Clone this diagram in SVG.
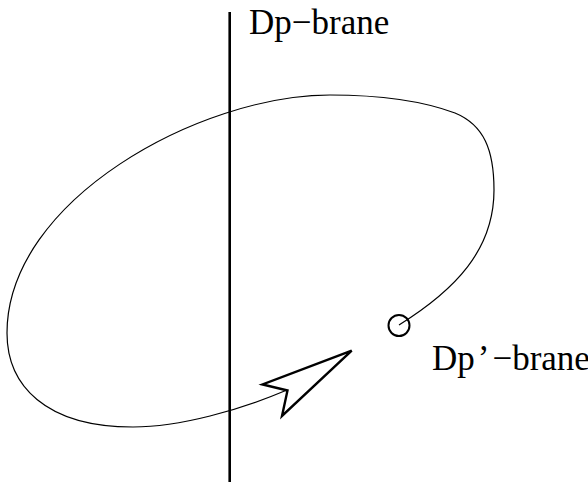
<svg xmlns="http://www.w3.org/2000/svg" width="588" height="483" viewBox="0 0 588 483">
<style>
.lbl{font-family:"Liberation Serif","Times New Roman",serif;font-size:35px;fill:#000}
.thin{fill:none;stroke:#000;stroke-width:1.2}
</style>
<rect width="588" height="483" fill="#fff"/>
<g id="dp-brane">
<line x1="229.7" y1="12" x2="229.7" y2="482" stroke="#000" stroke-width="2.6"/>
<text class="lbl" x="249" y="34">Dp−brane</text>
</g>
<g id="connectors">
<path class="thin" d="M399,325 C455,290 494,250 494,190 C494,150 484,125 455,113 C420,100 380,95 330,95 C200,95 7,200 7,333 C7,385 45,427 133,427 C180,427 240,410 287,390"/>
<polygon points="351.7,350.7 262.5,384.5 287.5,390.5 282,416" fill="#fff" stroke="#000" stroke-width="2.4" stroke-linejoin="miter"/>
</g>
<g id="dpprime-brane">
<circle cx="399" cy="325.5" r="10.5" fill="none" stroke="#000" stroke-width="2"/>
<text class="lbl" x="432" y="370">Dp<tspan dx="3">’</tspan><tspan dx="3">−brane</tspan></text>
</g>
</svg>
